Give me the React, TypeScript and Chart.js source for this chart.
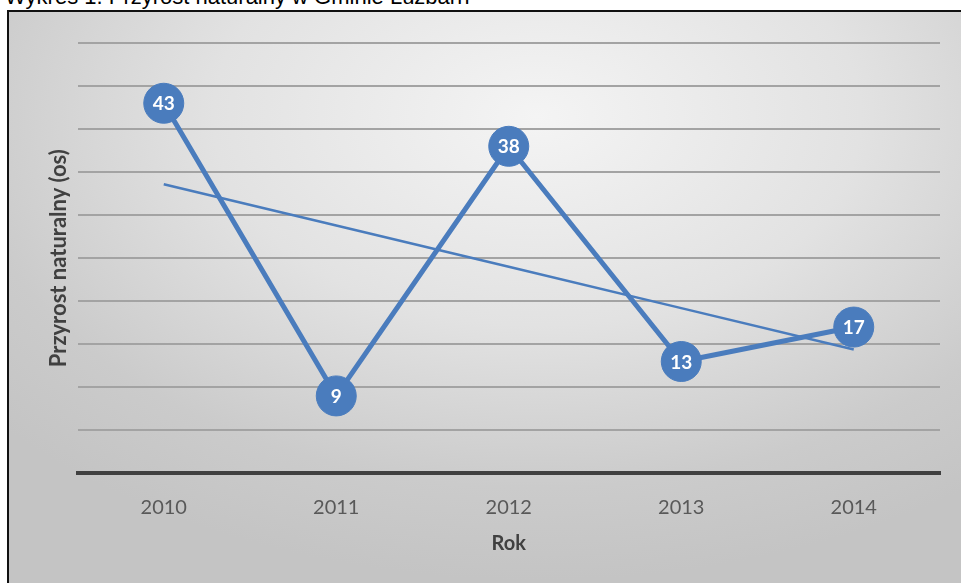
import React, { useEffect, useRef } from "react";
import { Chart, registerables } from "chart.js";

Chart.register(...registerables);

const TITLE = "Wykres 1. Przyrost naturalny w Gminie Łużbarh";
const categories = ["2010", "2011", "2012", "2013", "2014"];
const przyrost = [43, 9, 38, 13, 17];
const trend = [33.6, 28.8, 24.0, 19.2, 14.4];
const yTitle = "Przyrost naturalny (os)";
const xTitle = "Rok";
const yMin = 0;
const yMax = 50;
const yStep = 5;

const BLUE = "#4a7cbd";
const FONT = "Lato";

const labelPlugin = {
  id: "pointLabels",
  afterDatasetsDraw(chart: any) {
    const ctx = chart.ctx;
    const meta = chart.getDatasetMeta(0);
    const data = chart.data.datasets[0].data;
    ctx.save();
    ctx.fillStyle = "#ffffff";
    ctx.font = "bold 19px Lato";
    ctx.textAlign = "center";
    ctx.textBaseline = "middle";
    meta.data.forEach((pt: any, i: number) => {
      ctx.fillText(String(data[i]), pt.x, pt.y + 1);
    });
    ctx.restore();
  },
};

export default function App() {
  const ref = useRef<HTMLCanvasElement>(null);
  useEffect(() => {
    if (!ref.current) return;
    const chart = new Chart(ref.current, {
      type: "line",
      data: {
        labels: categories,
        datasets: [
          {
            label: "Przyrost",
            data: przyrost,
            borderColor: BLUE,
            backgroundColor: BLUE,
            borderWidth: 5,
            borderJoinStyle: "round",
            borderCapStyle: "round",
            pointRadius: 20,
            pointHoverRadius: 20,
            pointBackgroundColor: BLUE,
            pointBorderColor: BLUE,
            pointBorderWidth: 1,
            order: 0,
            clip: false as any,
          },
          {
            label: "Trend",
            data: trend,
            borderColor: BLUE,
            borderWidth: 2.5,
            pointRadius: 0,
            order: 1,
            clip: false as any,
          },
        ],
      },
      options: {
        animation: false,
        responsive: false,
        layout: { padding: { top: 31, right: 18.5, left: 33.2, bottom: 23 } },
        plugins: { legend: { display: false }, tooltip: { enabled: false } },
        scales: {
          x: {
            offset: true,
            grid: { display: false, drawTicks: false },
            border: { display: true, color: "#404040", width: 4 },
            ticks: {
              padding: 22,
              color: "#595959",
              font: { family: FONT, size: 20 },
            },
            title: {
              display: true,
              text: xTitle,
              color: "#404040",
              font: { family: FONT, size: 20, weight: "bold" },
            },
            afterFit: (s: any) => {
              s.height = 86.6;
            },
          },
          y: {
            min: yMin,
            max: yMax,
            ticks: { display: false, stepSize: yStep },
            grid: {
              drawTicks: false,
              lineWidth: 2,
              color: (c: any) => (c.tick && c.tick.value === 0 ? "rgba(0,0,0,0)" : "#a3a3a3"),
            },
            border: { display: false },
            title: {
              display: true,
              text: yTitle,
              color: "#404040",
              font: { family: FONT, size: 22, weight: "bold" },
            },
            afterFit: (s: any) => {
              s.width = 35.3;
            },
          },
        },
      },
      plugins: [labelPlugin],
    } as any);
    return () => chart.destroy();
  }, []);

  return (
    <div style={{ position: "fixed", left: 0, top: 0, width: 961, height: 583, overflow: "hidden", background: "#ffffff" }}>
      <div
        style={{
          position: "absolute",
          left: 5,
          top: -14,
          fontFamily: "'Liberation Sans', Arial, sans-serif",
          fontSize: 22,
          lineHeight: "22px",
          whiteSpace: "nowrap",
          color: "#000",
        }}
      >
        {TITLE}
      </div>
      <div
        style={{
          position: "absolute",
          left: 7,
          top: 10,
          width: 960,
          height: 580,
          borderLeft: "2px solid #111",
          borderTop: "2px solid #111",
          background:
            "radial-gradient(ellipse 75% 80% at 55% 18%, #f4f4f4 0%, #e2e2e2 45%, #cbcbcb 80%, #c4c4c4 100%)",
        }}
      >
        <canvas ref={ref} width={952} height={571} style={{ position: "absolute", left: 0, top: 0, width: 952, height: 571 }} />
      </div>
    </div>
  );
}
